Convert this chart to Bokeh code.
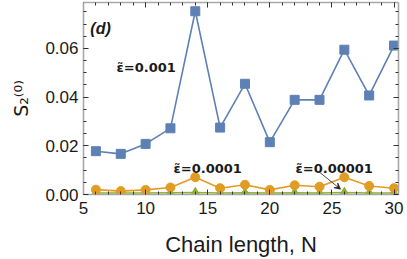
from bokeh.plotting import figure
from bokeh.models import (LinearAxis, SingleIntervalTicker, NumeralTickFormatter,
                          Label, Arrow, VeeHead, Range1d, CustomJSTickFormatter)
from bokeh.embed import file_html
from bokeh.resources import INLINE

# ---- data ----
chain_length = [6, 8, 10, 12, 14, 16, 18, 20, 22, 24, 26, 28, 30]
s2_eps_1e3 = [0.0178, 0.0167, 0.0208, 0.0272, 0.0753, 0.0275, 0.0455, 0.0215,
              0.0389, 0.0389, 0.0595, 0.0407, 0.0612]
s2_eps_1e4 = [0.0020, 0.0014, 0.0019, 0.0029, 0.0071, 0.0026, 0.0040, 0.0019,
              0.0038, 0.0032, 0.0071, 0.0035, 0.0026]
s2_eps_1e5 = [0.0006, 0.0006, 0.0006, 0.0007, 0.0008, 0.0006, 0.0007, 0.0006,
              0.0007, 0.0006, 0.0008, 0.0006, 0.0006]
series_labels = ["\u03b5\u0303=0.001", "\u03b5\u0303=0.0001", "\u03b5\u0303=0.00001"]
y_label = "S\u2082\u207d\u2070\u207e"
x_label = "Chain length, N"

BLUE = "#5E81B5"
ORANGE = "#E19C24"
GREEN = "#8FB032"
FONT = "Liberation Sans"
AXIS_GRAY = "#a8a8a8"

p = figure(width=407, height=259, output_backend="svg", toolbar_location=None,
           x_range=Range1d(5, 30.36), y_range=Range1d(0, 0.0789),
           min_border_left=83, min_border_right=9, min_border_top=2,
           min_border_bottom=65)
p.outline_line_color = None
p.grid.visible = False
p.background_fill_color = "white"
p.border_fill_color = "white"


def style_axis(ax, show_labels):
    ax.axis_line_color = AXIS_GRAY
    ax.axis_line_width = 1.6
    ax.major_tick_in = 5
    ax.major_tick_out = 0
    ax.minor_tick_in = 3
    ax.minor_tick_out = 0
    ax.major_tick_line_color = "#333333"
    ax.minor_tick_line_color = "#333333"
    ax.major_tick_line_width = 1
    ax.minor_tick_line_width = 1
    if show_labels:
        ax.major_label_text_font = FONT
        ax.major_label_text_font_size = "17px"
        ax.major_label_text_color = "#1a1a1a"
    else:
        ax.formatter = CustomJSTickFormatter(code="return '';")
        ax.major_label_standoff = 0


xa = p.xaxis[0]
xa.ticker = SingleIntervalTicker(interval=5, num_minor_ticks=5)
style_axis(xa, True)
xa.major_label_standoff = 7
xa.axis_label = x_label
xa.axis_label_text_font = FONT
xa.axis_label_text_font_size = "22px"
xa.axis_label_text_font_style = "normal"
xa.axis_label_text_color = "#1a1a1a"
xa.axis_label_standoff = 15

ya = p.yaxis[0]
ya.ticker = SingleIntervalTicker(interval=0.02, num_minor_ticks=4)
ya.formatter = NumeralTickFormatter(format="0.00")
style_axis(ya, True)
ya.major_label_standoff = 5
ya.axis_label = y_label
ya.axis_label_text_font = "DejaVu Sans"
ya.axis_label_text_font_size = "19px"
ya.axis_label_text_font_style = "normal"
ya.axis_label_text_color = "#1a1a1a"
ya.axis_label_standoff = 10

top = LinearAxis(ticker=SingleIntervalTicker(interval=5, num_minor_ticks=5))
style_axis(top, False)
p.add_layout(top, "above")
right = LinearAxis(ticker=SingleIntervalTicker(interval=0.02, num_minor_ticks=4))
style_axis(right, False)
p.add_layout(right, "right")

# ---- series ----
p.line(chain_length, s2_eps_1e5, line_color=GREEN, line_width=1.6)
p.scatter(chain_length, s2_eps_1e5, marker="triangle", size=9,
          fill_color=GREEN, line_color=GREEN)
p.line(chain_length, s2_eps_1e4, line_color=ORANGE, line_width=1.6)
p.scatter(chain_length, s2_eps_1e4, marker="circle", size=9,
          fill_color=ORANGE, line_color=ORANGE)
p.line(chain_length, s2_eps_1e3, line_color=BLUE, line_width=1.6)
p.scatter(chain_length, s2_eps_1e3, marker="square", size=9,
          fill_color=BLUE, line_color=BLUE)

# ---- annotations ----
def note(x, y, text, size="14px", style="bold", font=FONT):
    p.add_layout(Label(x=x, y=y, text=text, text_font=font, text_font_size=size,
                       text_font_style=style, text_color="#1a1a1a",
                       text_align="left", text_baseline="alphabetic"))

note(5.55, 0.0682, "(d)", size="16px", style="bold italic")
note(7.66, 0.0522, series_labels[0], size="13px", font="DejaVu Sans")
note(12.25, 0.0107, series_labels[1], size="13px", font="DejaVu Sans")
note(22.07, 0.0107, series_labels[2], size="13px", font="DejaVu Sans")

p.add_layout(Arrow(end=VeeHead(size=6, line_color="#222222", line_width=0.8,
                               fill_color="#222222"),
                   x_start=23.92, y_start=0.0095, x_end=25.69, y_end=0.0022,
                   line_color="#222222", line_width=0.8))

open("out.html", "w").write(file_html(p, INLINE))
